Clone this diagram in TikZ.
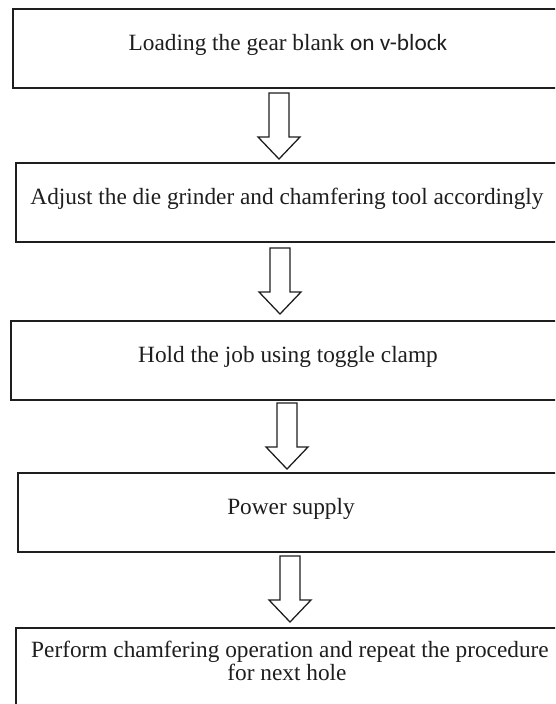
\documentclass[tikz,border=0pt]{standalone}
\usepackage{fontspec}
\setmainfont{Liberation Serif}
\newfontfamily\sansfam{Carlito}
\usepackage{tikz}

\definecolor{inkgray}{HTML}{1E1E1E}

\tikzset{
    stepbox/.style={draw=inkgray, line width=0.7mm, minimum width=570pt, minimum height=79pt, anchor=north west, inner sep=0pt},
    steptext/.style={text=inkgray, anchor=base, inner sep=0pt, font=\fontsize{23.3}{25}\selectfont},
    downarrow/.pic={
        \draw[inkgray, line width=0.45mm, line join=miter, fill=white]
            (-10,0) -- (-10,44) -- (-21,44) -- (0,66) -- (21,44) -- (10,44) -- (10,0) -- cycle;
    }
}

\begin{document}
\begin{tikzpicture}[x=1pt, y=-1pt]
    \clip (0,0) rectangle (555,704);
    \fill[white] (0,0) rectangle (555,704);

    \node[stepbox] (b1) at (12,8) {};
    \node[stepbox] (b2) at (15,162) {};
    \node[stepbox] (b3) at (10,320) {};
    \node[stepbox] (b4) at (17,472) {};
    \node[stepbox, minimum height=100pt] (b5) at (15,627) {};

    \node[steptext] (t1) at (288,50) {Loading the gear blank {\sansfam on v-block}};
    \node[steptext] (t2) at (287,204) {Adjust the die grinder and chamfering tool accordingly};
    \node[steptext] (t3) at (288,362) {Hold the job using toggle clamp};
    \node[steptext] (t4) at (291,514) {Power supply};
    \node[steptext] (t5) at (290,657) {Perform chamfering operation and repeat the procedure};
    \node[steptext] (t6) at (287,680) {for next hole};

    % arrows between the steps
    \coordinate (a1) at (279,93);
    \coordinate (a2) at (280,248);
    \coordinate (a3) at (287,403);
    \coordinate (a4) at (290,556);
    \pic at (a1) {downarrow};
    \pic at (a2) {downarrow};
    \pic at (a3) {downarrow};
    \pic at (a4) {downarrow};

\end{tikzpicture}
\end{document}
